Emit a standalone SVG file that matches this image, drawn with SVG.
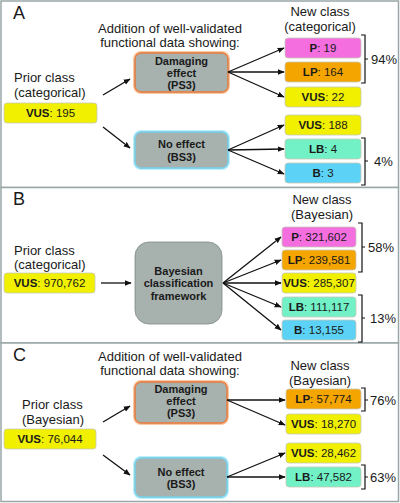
<svg xmlns="http://www.w3.org/2000/svg" width="400" height="503" viewBox="0 0 400 503">
<defs>
<marker id="ah" viewBox="0 0 10 10" refX="9" refY="5" markerWidth="7" markerHeight="7" orient="auto" markerUnits="userSpaceOnUse">
<path d="M0,1 L10,5 L0,9 z" fill="#111"/>
</marker>
<style>
text{font-family:"Liberation Sans",Arial,sans-serif;fill:#1a1a1a}
.lbl{font-size:18px}
.t{font-size:13px}
.pct{font-size:13px}
.bx{font-size:11.5px;text-anchor:middle}
.bt{font-size:11px;font-weight:bold;text-anchor:middle}
.b{font-weight:bold}
.conn line{stroke:#111;stroke-width:1.3;marker-end:url(#ah)}
.br{fill:none;stroke:#111;stroke-width:1.2}
.cls{stroke:#c8c8b8;stroke-width:0.8}
.P{fill:#f46ee0}.LP{fill:#f5a500}.VUS{fill:#f0f000}.LB{fill:#72f0c6}.B{fill:#5cd3f6}
.gray{fill:#a7b1ae;stroke:#7f8a88;stroke-width:0.8}
.og{fill:none;stroke:#f9c9a6;stroke-width:4}
.oi{fill:none;stroke:#ef7f3e;stroke-width:1.4}
.cg{fill:none;stroke:#bdeffc;stroke-width:4}
.ci{fill:none;stroke:#79d6f1;stroke-width:1.4}
.panel{fill:#fff;stroke:#9aa6a6;stroke-width:1.5}
</style>
</defs>
<rect x="0" y="0" width="400" height="503" fill="#fff"/>
<rect class="panel" x="1" y="1" width="397.5" height="186.5"/>
<rect class="panel" x="1" y="187.5" width="397.5" height="155.5"/>
<rect class="panel" x="1" y="343" width="397.5" height="158.5"/>

<!-- Panel A -->
<g id="panelA-labels">
<text class="lbl" x="13" y="19">A</text>
<text class="t" x="170" y="33" text-anchor="middle">Addition of well-validated</text>
<text class="t" x="170" y="47" text-anchor="middle">functional data showing:</text>
<text class="t" x="14" y="82">Prior class</text>
<text class="t" x="14" y="97">(categorical)</text>
<text class="t" x="320" y="16" text-anchor="middle">New class</text>
<text class="t" x="320" y="31" text-anchor="middle">(categorical)</text>
</g>
<g id="A-prior"><rect class="VUS cls" x="4" y="103" width="93" height="20" rx="3"/><text class="bx" x="50.5" y="117"><tspan class="b">VUS</tspan>: 195</text></g>
<g id="A-damaging"><rect class="og" x="135" y="53" width="93" height="39" rx="6"/><rect class="gray" x="135" y="53" width="93" height="39" rx="6"/><rect class="oi" x="135" y="53" width="93" height="39" rx="6"/>
<text class="bt" x="181.5" y="65">Damaging</text><text class="bt" x="181.5" y="77">effect</text><text class="bt" x="181.5" y="89">(PS3)</text></g>
<g id="A-noeffect"><rect class="cg" x="135" y="132" width="93" height="36" rx="6"/><rect class="gray" x="135" y="132" width="93" height="36" rx="6"/><rect class="ci" x="135" y="132" width="93" height="36" rx="6"/>
<text class="bt" x="181.5" y="148">No effect</text><text class="bt" x="181.5" y="161">(BS3)</text></g>
<g id="A-P"><rect class="P cls" x="285" y="38" width="76" height="20" rx="3"/><text class="bx" x="323" y="52"><tspan class="b">P</tspan>: 19</text></g>
<g id="A-LP"><rect class="LP cls" x="285" y="62" width="76" height="20" rx="3"/><text class="bx" x="323" y="76"><tspan class="b">LP</tspan>: 164</text></g>
<g id="A-VUS1"><rect class="VUS cls" x="285" y="87" width="76" height="20" rx="3"/><text class="bx" x="323" y="101"><tspan class="b">VUS</tspan>: 22</text></g>
<g id="A-VUS2"><rect class="VUS cls" x="285" y="115" width="76" height="20" rx="3"/><text class="bx" x="323" y="129"><tspan class="b">VUS</tspan>: 188</text></g>
<g id="A-LB"><rect class="LB cls" x="285" y="139" width="76" height="20" rx="3"/><text class="bx" x="323" y="153"><tspan class="b">LB</tspan>: 4</text></g>
<g id="A-B"><rect class="B cls" x="285" y="163" width="76" height="20" rx="3"/><text class="bx" x="323" y="177"><tspan class="b">B</tspan>: 3</text></g>
<g id="A-brackets">
<path class="br" d="M361,35 H365 V83 H361 M365,59 H368"/>
<text class="pct" x="371" y="64">94%</text>
<path class="br" d="M361,138 H365 V185 H361 M365,161 H368"/>
<text class="pct" x="374" y="166">4%</text>
</g>

<!-- Panel B -->
<g id="panelB-labels">
<text class="lbl" x="13" y="205">B</text>
<text class="t" x="14" y="255">Prior class</text>
<text class="t" x="14" y="269">(categorical)</text>
<text class="t" x="322" y="204" text-anchor="middle">New class</text>
<text class="t" x="322" y="219" text-anchor="middle">(Bayesian)</text>
</g>
<g id="B-prior"><rect class="VUS cls" x="4" y="273" width="91" height="20" rx="3"/><text class="bx" x="49.5" y="287"><tspan class="b">VUS</tspan>: 970,762</text></g>
<g id="B-framework"><rect class="gray" x="135" y="242" width="87" height="82" rx="14"/>
<text class="bt" x="178.5" y="275">Bayesian</text><text class="bt" x="178.5" y="287">classification</text><text class="bt" x="178.5" y="300">framework</text></g>
<g id="B-P"><rect class="P cls" x="282" y="227" width="74" height="20" rx="3"/><text class="bx" x="319" y="241"><tspan class="b">P</tspan>: 321,602</text></g>
<g id="B-LP"><rect class="LP cls" x="282" y="250" width="74" height="20" rx="3"/><text class="bx" x="319" y="264"><tspan class="b">LP</tspan>: 239,581</text></g>
<g id="B-VUS"><rect class="VUS cls" x="282" y="273" width="74" height="20" rx="3"/><text class="bx" x="319" y="287"><tspan class="b">VUS</tspan>: 285,307</text></g>
<g id="B-LB"><rect class="LB cls" x="282" y="297" width="74" height="20" rx="3"/><text class="bx" x="319" y="311"><tspan class="b">LB</tspan>: 111,117</text></g>
<g id="B-B"><rect class="B cls" x="282" y="320" width="74" height="20" rx="3"/><text class="bx" x="319" y="334"><tspan class="b">B</tspan>: 13,155</text></g>
<g id="B-brackets">
<path class="br" d="M358,223 H362 V272 H358 M362,247 H365"/>
<text class="pct" x="368" y="252">58%</text>
<path class="br" d="M358,295 H362 V342 H358 M362,318 H365"/>
<text class="pct" x="370" y="323">13%</text>
</g>

<!-- Panel C -->
<g id="panelC-labels">
<text class="lbl" x="13" y="361">C</text>
<text class="t" x="170" y="361" text-anchor="middle">Addition of well-validated</text>
<text class="t" x="170" y="375" text-anchor="middle">functional data showing:</text>
<text class="t" x="22" y="409">Prior class</text>
<text class="t" x="22" y="424">(Bayesian)</text>
<text class="t" x="320" y="370" text-anchor="middle">New class</text>
<text class="t" x="320" y="385" text-anchor="middle">(Bayesian)</text>
</g>
<g id="C-prior"><rect class="VUS cls" x="4" y="429" width="92" height="20" rx="3"/><text class="bx" x="50" y="443"><tspan class="b">VUS</tspan>: 76,044</text></g>
<g id="C-damaging"><rect class="og" x="135" y="382" width="92" height="41" rx="6"/><rect class="gray" x="135" y="382" width="92" height="41" rx="6"/><rect class="oi" x="135" y="382" width="92" height="41" rx="6"/>
<text class="bt" x="181" y="393">Damaging</text><text class="bt" x="181" y="405">effect</text><text class="bt" x="181" y="417">(PS3)</text></g>
<g id="C-noeffect"><rect class="cg" x="135" y="458" width="92" height="39" rx="6"/><rect class="gray" x="135" y="458" width="92" height="39" rx="6"/><rect class="ci" x="135" y="458" width="92" height="39" rx="6"/>
<text class="bt" x="181" y="476">No effect</text><text class="bt" x="181" y="488">(BS3)</text></g>
<g id="C-LP"><rect class="LP cls" x="286" y="389" width="75" height="20" rx="3"/><text class="bx" x="323.5" y="403"><tspan class="b">LP</tspan>: 57,774</text></g>
<g id="C-VUS1"><rect class="VUS cls" x="286" y="414" width="75" height="20" rx="3"/><text class="bx" x="323.5" y="428"><tspan class="b">VUS</tspan>: 18,270</text></g>
<g id="C-VUS2"><rect class="VUS cls" x="286" y="443" width="75" height="20" rx="3"/><text class="bx" x="323.5" y="457"><tspan class="b">VUS</tspan>: 28,462</text></g>
<g id="C-LB"><rect class="LB cls" x="286" y="467" width="75" height="20" rx="3"/><text class="bx" x="323.5" y="481"><tspan class="b">LB</tspan>: 47,582</text></g>
<g id="C-brackets">
<path class="br" d="M361,388 H365 V411 H361 M365,400 H368"/>
<text class="pct" x="370" y="405">76%</text>
<path class="br" d="M361,465 H365 V489 H361 M365,477 H368"/>
<text class="pct" x="370" y="482">63%</text>
</g>

<g id="connectors" class="conn">
<line x1="103" y1="95" x2="130" y2="79"/>
<line x1="103" y1="127" x2="130" y2="148"/>
<line x1="228" y1="72" x2="284" y2="48"/>
<line x1="228" y1="72" x2="284" y2="72"/>
<line x1="228" y1="72" x2="284" y2="97"/>
<line x1="228" y1="150" x2="284" y2="125"/>
<line x1="228" y1="150" x2="284" y2="149"/>
<line x1="228" y1="150" x2="284" y2="174"/>
<line x1="101" y1="283" x2="131" y2="283"/>
<line x1="223" y1="283" x2="281" y2="237"/>
<line x1="223" y1="283" x2="281" y2="260"/>
<line x1="223" y1="283" x2="281" y2="283"/>
<line x1="223" y1="283" x2="281" y2="307"/>
<line x1="223" y1="283" x2="281" y2="330"/>
<line x1="103" y1="422" x2="130" y2="406"/>
<line x1="103" y1="455" x2="130" y2="475"/>
<line x1="227" y1="400" x2="285" y2="400"/>
<line x1="227" y1="400" x2="285" y2="425"/>
<line x1="227" y1="477" x2="285" y2="453"/>
<line x1="227" y1="477" x2="285" y2="477"/>
</g>
</svg>
